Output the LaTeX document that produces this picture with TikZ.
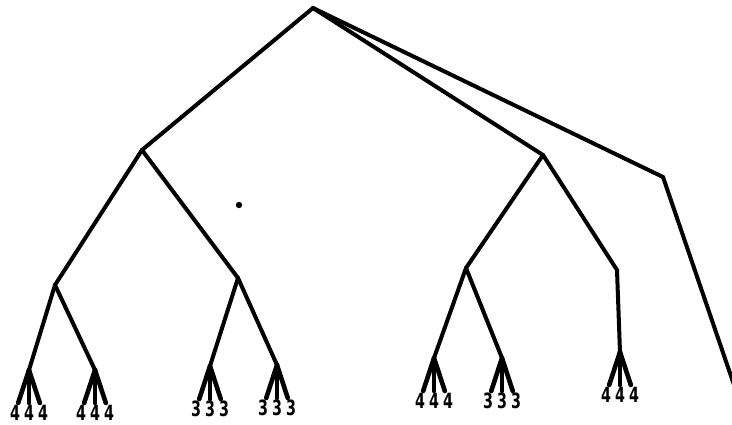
\documentclass[tikz,border=0pt]{standalone}
\usepackage{fontspec}
\usepackage{graphicx}
\setmainfont{DejaVu Sans}
\newcommand{\leafdigit}[1]{\scalebox{0.68}[1]{#1}}

\begin{document}
\begin{tikzpicture}[
    x=1pt,
    y=-1pt,
    branch/.style={
        line width=4pt,
        line cap=round,
        line join=round
    },
    twig/.style={line width=4.6pt, line cap=round},
    leaf/.style={
        font=\bfseries\fontsize{21}{21}\selectfont,
        anchor=north,
        inner sep=0pt,
        outer sep=2pt
    }
]
\useasboundingbox (0,0) rectangle (732,424);
\clip (0,0) rectangle (732,424);

\coordinate (root) at (313,8);
\coordinate (a) at (142,150);
\coordinate (b) at (543,155);
\coordinate (c) at (663,177);
\coordinate (aa) at (55,285);
\coordinate (ab) at (238,278);
\coordinate (ba) at (466,268);
\coordinate (bb) at (617,270);
\coordinate (aaa) at (29,370);
\coordinate (aab) at (95,370);
\coordinate (aba) at (210,366);
\coordinate (abb) at (277,365);
\coordinate (baa) at (434,358);
\coordinate (bab) at (502,358);
\coordinate (bba) at (620,352);
\node[leaf] (ca) at (737,384) {\leafdigit{4}};

\draw[branch] (root) -- (a);
\draw[branch] (root) -- (b);
\draw[branch] (root) -- (c);
\draw[branch] (a) -- (aa);
\draw[branch] (a) -- (ab);
\draw[branch] (b) -- (ba);
\draw[branch] (b) -- (bb);
\draw[branch] (c) -- (ca);
\draw[branch] (aa) -- (aaa);
\draw[branch] (aa) -- (aab);
\draw[branch] (ab) -- (aba);
\draw[branch] (ab) -- (abb);
\draw[branch] (ba) -- (baa);
\draw[branch] (ba) -- (bab);
\draw[branch] (bb) -- (bba);

\foreach \f/\d in {aaa/4, aab/4, aba/3, abb/3, baa/4, bab/3, bba/4} {
    \node[leaf] (\f-l) at ([shift={(-14,33)}]\f) {\leafdigit{\d}};
    \node[leaf] (\f-m) at ([shift={(0,33)}]\f) {\leafdigit{\d}};
    \node[leaf] (\f-r) at ([shift={(14,33)}]\f) {\leafdigit{\d}};
    \draw[twig] (\f) -- (\f-l);
    \draw[twig] (\f) -- (\f-m);
    \draw[twig] (\f) -- (\f-r);
}

\fill (239,205) circle (3.2pt);
\end{tikzpicture}
\end{document}
